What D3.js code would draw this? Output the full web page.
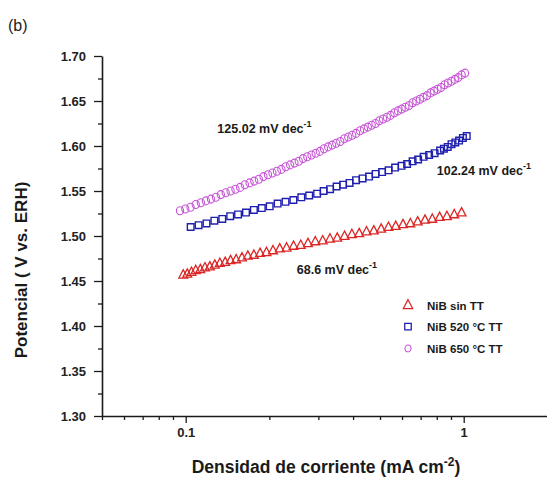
<!DOCTYPE html>
<html>
<head>
<meta charset="utf-8">
<script src="https://cdn.jsdelivr.net/npm/d3@7"></script>
<style>
  body { margin: 0; background: #fff; }
  svg { display: block; font-family: "Liberation Sans", Arial, sans-serif; }
</style>
</head>
<body>
<script>
// datos (densidad de corriente en mA cm-2, potencial en V vs. ERH)
const sinTT_i = [0.0980, 0.1013, 0.1049, 0.1087, 0.1129, 0.1173, 0.1221, 0.1273, 0.1327, 0.1387,
  0.1450, 0.1519, 0.1594, 0.1673, 0.1759, 0.1852, 0.1953, 0.2061, 0.2179, 0.2306,
  0.2443, 0.2593, 0.2754, 0.2925, 0.3110, 0.3304, 0.3509, 0.3727, 0.3961, 0.4208,
  0.4470, 0.4750, 0.5047, 0.5362, 0.5695, 0.6050, 0.6429, 0.6830, 0.7257, 0.7709,
  0.8191, 0.8702, 0.9247, 0.9824];
const sinTT_E = [1.457, 1.458, 1.460, 1.462, 1.463, 1.465, 1.466, 1.468, 1.470, 1.471,
  1.473, 1.474, 1.476, 1.478, 1.479, 1.481, 1.482, 1.484, 1.486, 1.487,
  1.489, 1.490, 1.492, 1.494, 1.495, 1.497, 1.498, 1.500, 1.502, 1.503,
  1.505, 1.506, 1.508, 1.510, 1.511, 1.513, 1.514, 1.516, 1.518, 1.519,
  1.521, 1.522, 1.524, 1.526];

const tt520_i = [0.1042, 0.1113, 0.1188, 0.1268, 0.1354, 0.1446, 0.1543, 0.1648, 0.1759, 0.1878,
  0.2005, 0.2141, 0.2286, 0.2440, 0.2605, 0.2781, 0.2970, 0.3134, 0.3307, 0.3490,
  0.3683, 0.3886, 0.4101, 0.4328, 0.4567, 0.4820, 0.5087, 0.5368, 0.5665, 0.5978,
  0.6258, 0.6549, 0.6855, 0.7174, 0.7508, 0.7858, 0.8224, 0.8487, 0.8759, 0.9039,
  0.9329, 0.9626, 0.9934, 1.0252];
const tt520_E = [1.510, 1.512, 1.514, 1.517, 1.519, 1.522, 1.524, 1.526, 1.529, 1.531,
  1.533, 1.536, 1.538, 1.540, 1.543, 1.545, 1.547, 1.550, 1.552, 1.555,
  1.557, 1.559, 1.562, 1.564, 1.566, 1.569, 1.571, 1.573, 1.576, 1.578,
  1.580, 1.583, 1.585, 1.588, 1.590, 1.592, 1.595, 1.597, 1.599, 1.602,
  1.604, 1.606, 1.609, 1.611];

const tt650_i = [0.0954, 0.0997, 0.1041, 0.1087, 0.1134, 0.1182, 0.1233, 0.1285, 0.1338, 0.1393,
  0.1451, 0.1510, 0.1570, 0.1633, 0.1698, 0.1764, 0.1833, 0.1904, 0.1977, 0.2051,
  0.2129, 0.2209, 0.2290, 0.2375, 0.2462, 0.2551, 0.2642, 0.2737, 0.2835, 0.2935,
  0.3038, 0.3143, 0.3253, 0.3364, 0.3479, 0.3597, 0.3719, 0.3843, 0.3972, 0.4103,
  0.4238, 0.4377, 0.4520, 0.4666, 0.4816, 0.4971, 0.5128, 0.5291, 0.5457, 0.5628,
  0.5804, 0.5983, 0.6168, 0.6357, 0.6551, 0.6750, 0.6955, 0.7163, 0.7377, 0.7596,
  0.7821, 0.8053, 0.8288, 0.8530, 0.8778, 0.9032, 0.9291, 0.9559, 0.9832, 1.0111];
const tt650_E = [1.528, 1.530, 1.532, 1.535, 1.537, 1.539, 1.541, 1.543, 1.546, 1.548,
  1.550, 1.552, 1.554, 1.557, 1.559, 1.561, 1.563, 1.566, 1.568, 1.570,
  1.572, 1.574, 1.577, 1.579, 1.581, 1.583, 1.586, 1.588, 1.590, 1.592,
  1.594, 1.597, 1.599, 1.601, 1.603, 1.605, 1.608, 1.610, 1.612, 1.614,
  1.617, 1.619, 1.621, 1.623, 1.625, 1.628, 1.630, 1.632, 1.634, 1.637,
  1.639, 1.641, 1.643, 1.645, 1.648, 1.650, 1.652, 1.654, 1.656, 1.659,
  1.661, 1.663, 1.665, 1.668, 1.670, 1.672, 1.674, 1.676, 1.679, 1.681];

const seriesNames = ["NiB sin TT", "NiB 520 \u00B0C TT", "NiB 650 \u00B0C TT"];
const tafelLabels = ["68.6", "102.24", "125.02"];

const xMajor = [0.1, 1];
const xMinor = [0.05, 0.06, 0.07, 0.08, 0.09, 0.2, 0.3, 0.4, 0.5, 0.6, 0.7, 0.8, 0.9, 2];
const yMajor = [1.30, 1.35, 1.40, 1.45, 1.50, 1.55, 1.60, 1.65, 1.70];
const yMinor = [1.325, 1.375, 1.425, 1.475, 1.525, 1.575, 1.625, 1.675];

const width = 547, height = 483;
const svg = d3.select("body").append("svg")
    .attr("width", width)
    .attr("height", height);

// escalas
const x = d3.scaleLog().domain([0.05, 2]).range([102, 547.4]);
const y = d3.scaleLinear().domain([1.30, 1.70]).range([416, 56]);

const axisColor = "#1a1a1a";

// eje X
const gx = svg.append("g").attr("transform", `translate(0,${y(1.30)})`);
gx.call(d3.axisBottom(x).tickValues(xMajor).tickFormat(d => d === 1 ? "1" : "0.1")
        .tickSize(7).tickSizeOuter(0).tickPadding(5));
gx.append("g").call(d3.axisBottom(x).tickValues(xMinor).tickFormat("").tickSize(4).tickSizeOuter(0))
    .select(".domain").remove();

// eje Y
const gy = svg.append("g").attr("transform", `translate(${x(0.05)},0)`);
gy.call(d3.axisLeft(y).tickValues(yMajor).tickFormat(d3.format(".2f"))
        .tickSize(8).tickSizeOuter(0).tickPadding(8));
gy.append("g").call(d3.axisLeft(y).tickValues(yMinor).tickFormat("").tickSize(4).tickSizeOuter(0))
    .select(".domain").remove();

svg.selectAll(".domain").attr("stroke", axisColor).attr("stroke-width", 1.6);
svg.selectAll(".tick line").attr("stroke", axisColor).attr("stroke-width", 1.3);
svg.selectAll(".tick text")
    .attr("font-family", "Liberation Sans, Arial, sans-serif")
    .attr("font-size", 13)
    .attr("font-weight", "bold")
    .attr("fill", "#222");

// series
const series = [
  { name: seriesNames[2], i: tt650_i, E: tt650_E, color: "#c653d6", shape: "circle" },
  { name: seriesNames[1], i: tt520_i, E: tt520_E, color: "#1f1fae", shape: "square" },
  { name: seriesNames[0], i: sinTT_i, E: sinTT_E, color: "#dc2626", shape: "triangle" }
];

const markerPath = (shape, s) => {
  if (shape === "triangle") return `M0,${-s * 0.62}L${s * 0.55},${s * 0.42}L${-s * 0.55},${s * 0.42}Z`;
  if (shape === "square") return `M${-s / 2},${-s / 2}h${s}v${s}h${-s}Z`;
  return null;
};

series.forEach(sr => {
  const pts = sr.i.map((v, k) => ({ i: v, E: sr.E[k] }));
  const g = svg.append("g").attr("fill", "none").attr("stroke", sr.color);
  if (sr.shape === "circle") {
    g.attr("stroke-width", 1.1)
      .selectAll("ellipse").data(pts).join("ellipse")
        .attr("cx", d => x(d.i))
        .attr("cy", d => y(d.E))
        .attr("rx", 3.6)
        .attr("ry", 4);
  } else {
    const size = sr.shape === "triangle" ? 8 : 6.6;
    g.attr("stroke-width", sr.shape === "triangle" ? 1.3 : 1.4)
      .selectAll("path").data(pts).join("path")
        .attr("transform", d => `translate(${x(d.i)},${y(d.E)})`)
        .attr("d", markerPath(sr.shape, size));
  }
});

// pendientes de Tafel
const tafel = [
  { text: tafelLabels[0], px: 0.251, E: 1.4578 },
  { text: tafelLabels[1], px: 0.80, E: 1.5683 },
  { text: tafelLabels[2], px: 0.130, E: 1.6144 }
];
tafel.forEach(t => {
  const tx = svg.append("text")
      .attr("x", x(t.px))
      .attr("y", y(t.E))
      .attr("font-size", 12.5)
      .attr("font-weight", "bold")
      .attr("fill", "#1a1a1a");
  tx.append("tspan").text(`${t.text} mV dec`);
  tx.append("tspan").attr("dy", -6).attr("font-size", 9).text("-1");
});

// leyenda
const legend = svg.append("g").attr("transform", "translate(408,305)");
[series[2], series[1], series[0]].forEach((sr, k) => {
  const row = legend.append("g").attr("transform", `translate(0,${k * 21.7})`);
  if (sr.shape === "circle") {
    row.append("ellipse").attr("rx", 3).attr("ry", 3.4)
      .attr("fill", "none").attr("stroke", sr.color).attr("stroke-width", 1.1);
  } else {
    row.append("path").attr("d", markerPath(sr.shape, sr.shape === "triangle" ? 8.5 : 6.5))
      .attr("fill", "none").attr("stroke", sr.color).attr("stroke-width", 1.3);
  }
  row.append("text")
      .attr("x", 19)
      .attr("y", 4.5)
      .attr("font-size", 11.5)
      .attr("font-weight", "bold")
      .attr("fill", "#1a1a1a")
      .text(sr.name);
});

// titulos de ejes
const xt = svg.append("text")
    .attr("x", 326)
    .attr("y", 473)
    .attr("text-anchor", "middle")
    .attr("font-size", 17.5)
    .attr("font-weight", "bold")
    .attr("fill", "#1a1a1a");
xt.append("tspan").text("Densidad de corriente (mA cm");
xt.append("tspan").attr("dy", -7).attr("font-size", 12).text("-2");
xt.append("tspan").attr("dy", 7).text(")");

svg.append("text")
    .attr("transform", "translate(27,270) rotate(-90)")
    .attr("text-anchor", "middle")
    .attr("font-size", 17)
    .attr("font-weight", "bold")
    .attr("fill", "#1a1a1a")
    .text("Potencial ( V vs. ERH)");

svg.append("text")
    .attr("x", 8)
    .attr("y", 31)
    .attr("font-size", 16)
    .attr("fill", "#222")
    .text("(b)");
</script>
</body>
</html>
